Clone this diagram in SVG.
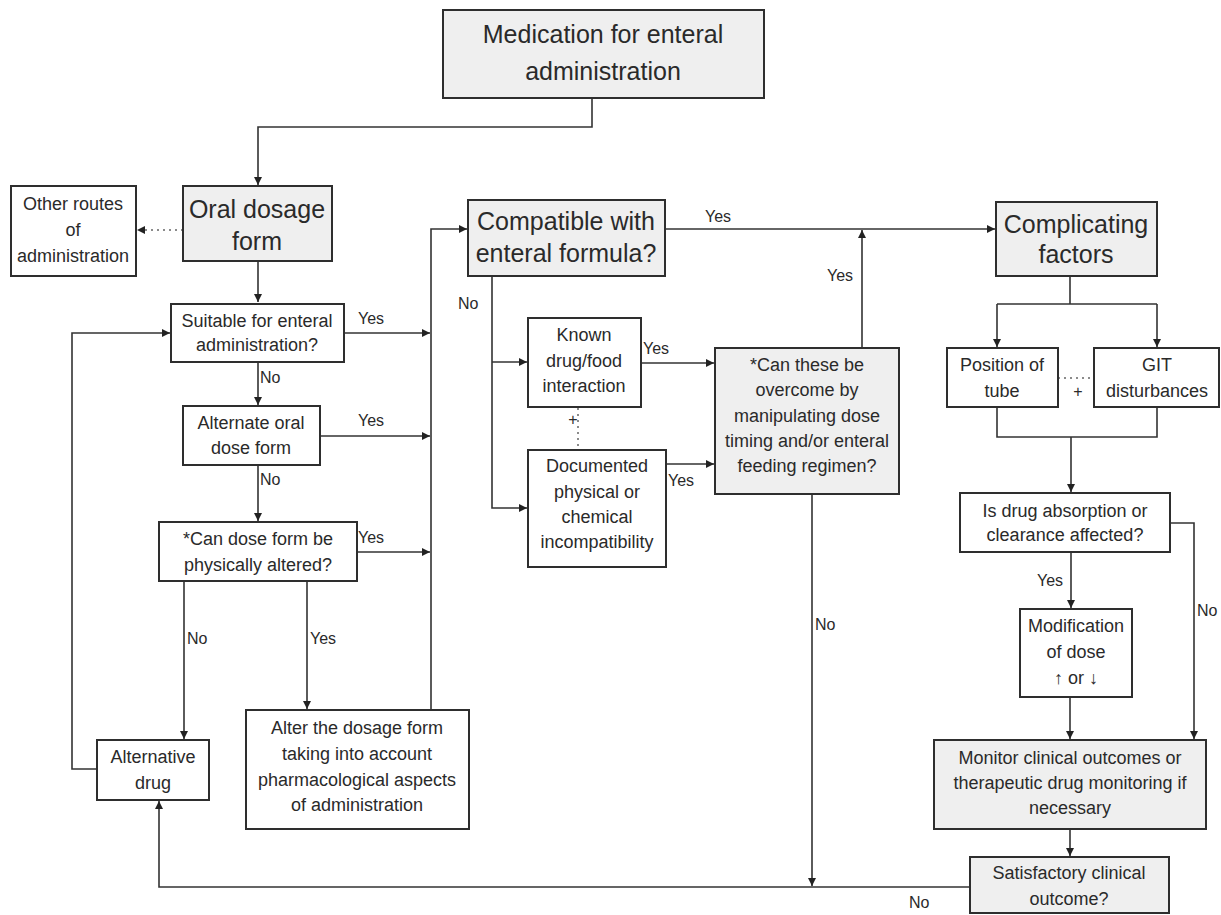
<svg xmlns="http://www.w3.org/2000/svg" width="1221" height="915" viewBox="0 0 1221 915">
<style>
text{font-family:"Liberation Sans",Arial,sans-serif;fill:#2a2a2a;text-anchor:middle}
.box{fill:#fff;stroke:#2e2e2e;stroke-width:2}
.gray{fill:#efefef;stroke:#2e2e2e;stroke-width:2}
.big{font-size:25px}
.mid{font-size:18px}
.lbl{font-size:16px;text-anchor:start}
.ln{fill:none;stroke:#333;stroke-width:1.6}
.dot{fill:none;stroke:#666;stroke-width:1.5;stroke-dasharray:2 4}
</style>
<defs>
<marker id="ar" viewBox="0 0 10 10" refX="10" refY="5" markerWidth="8" markerHeight="8" markerUnits="userSpaceOnUse" orient="auto">
<path d="M0 0L10 5L0 10z" fill="#222"/>
</marker>
</defs>
<rect width="1221" height="915" fill="#fff"/>
<g id="connectors">
<path class="ln" d="M592 98V127H258V185" marker-end="url(#ar)"/>
<path class="dot" d="M183 230H137" marker-end="url(#ar)"/>
<path class="ln" d="M258 261V302" marker-end="url(#ar)"/>
<path class="ln" d="M258 362V405" marker-end="url(#ar)"/>
<path class="ln" d="M258 465V521" marker-end="url(#ar)"/>
<path class="ln" d="M344 333H430" marker-end="url(#ar)"/>
<path class="ln" d="M320 436H430" marker-end="url(#ar)"/>
<path class="ln" d="M357 552H430" marker-end="url(#ar)"/>
<path class="ln" d="M431 710V229H467" marker-end="url(#ar)"/>
<path class="ln" d="M184 581V739" marker-end="url(#ar)"/>
<path class="ln" d="M307 581V709" marker-end="url(#ar)"/>
<path class="ln" d="M97 769H72V333H170" marker-end="url(#ar)"/>
<path class="ln" d="M665 229H995" marker-end="url(#ar)"/>
<path class="ln" d="M492 276V508H527" marker-end="url(#ar)"/>
<path class="ln" d="M492 362H527" marker-end="url(#ar)"/>
<path class="ln" d="M641 363H714" marker-end="url(#ar)"/>
<path class="ln" d="M666 464H714" marker-end="url(#ar)"/>
<path class="dot" d="M578 408V450"/>
<path class="ln" d="M862 348V230" marker-end="url(#ar)"/>
<path class="ln" d="M812 494V886" marker-end="url(#ar)"/>
<path class="ln" d="M970 887H159V801" marker-end="url(#ar)"/>
<path class="ln" d="M1070 276V304"/>
<path class="ln" d="M997 304H1157"/>
<path class="ln" d="M997 304V347" marker-end="url(#ar)"/>
<path class="ln" d="M1157 304V347" marker-end="url(#ar)"/>
<path class="dot" d="M1058 378H1094"/>
<path class="ln" d="M997 407V437H1157V407"/>
<path class="ln" d="M1071 437V492" marker-end="url(#ar)"/>
<path class="ln" d="M1170 523H1194V739" marker-end="url(#ar)"/>
<path class="ln" d="M1071 552V608" marker-end="url(#ar)"/>
<path class="ln" d="M1070 697V739" marker-end="url(#ar)"/>
<path class="ln" d="M1070 829V856" marker-end="url(#ar)"/>
<text class="lbl" x="573" y="425" style="text-anchor:middle">+</text>
<text class="lbl" x="1078" y="397" style="text-anchor:middle">+</text>
<text class="lbl" x="358" y="324">Yes</text>
<text class="lbl" x="260" y="383">No</text>
<text class="lbl" x="358" y="426">Yes</text>
<text class="lbl" x="260" y="485">No</text>
<text class="lbl" x="358" y="543">Yes</text>
<text class="lbl" x="187" y="644">No</text>
<text class="lbl" x="310" y="644">Yes</text>
<text class="lbl" x="458" y="309">No</text>
<text class="lbl" x="705" y="222">Yes</text>
<text class="lbl" x="827" y="281">Yes</text>
<text class="lbl" x="643" y="354">Yes</text>
<text class="lbl" x="668" y="486">Yes</text>
<text class="lbl" x="815" y="630">No</text>
<text class="lbl" x="909" y="908">No</text>
<text class="lbl" x="1037" y="586">Yes</text>
<text class="lbl" x="1197" y="616">No</text>
</g>
<g id="n-medication"><rect class="gray" x="443" y="10" width="321" height="88"/><text class="big" x="603" y="43">Medication for enteral</text><text class="big" x="603" y="80">administration</text></g>
<g id="n-other"><rect class="box" x="11" y="186" width="125" height="90"/><text class="mid" x="73" y="210">Other routes</text><text class="mid" x="73" y="236">of</text><text class="mid" x="73" y="262">administration</text></g>
<g id="n-oral"><rect class="gray" x="183" y="186" width="149" height="75"/><text class="big" x="257" y="218">Oral dosage</text><text class="big" x="257" y="250">form</text></g>
<g id="n-suitable"><rect class="box" x="171" y="304" width="173" height="58"/><text class="mid" x="257" y="327">Suitable for enteral</text><text class="mid" x="257" y="351">administration?</text></g>
<g id="n-alternate"><rect class="box" x="183" y="406" width="137" height="59"/><text class="mid" x="251" y="429">Alternate oral</text><text class="mid" x="251" y="454">dose form</text></g>
<g id="n-candose"><rect class="box" x="159" y="522" width="198" height="59"/><text class="mid" x="258" y="545">*Can dose form be</text><text class="mid" x="258" y="571">physically altered?</text></g>
<g id="n-altdrug"><rect class="box" x="97" y="740" width="112" height="60"/><text class="mid" x="153" y="763">Alternative</text><text class="mid" x="153" y="789">drug</text></g>
<g id="n-alter"><rect class="box" x="246" y="710" width="223" height="119"/><text class="mid" x="357" y="734">Alter the dosage form</text><text class="mid" x="357" y="760">taking into account</text><text class="mid" x="357" y="786">pharmacological aspects</text><text class="mid" x="357" y="811">of administration</text></g>
<g id="n-compatible"><rect class="gray" x="468" y="200" width="197" height="76"/><text class="big" x="566" y="230">Compatible with</text><text class="big" x="566" y="262">enteral formula?</text></g>
<g id="n-known"><rect class="box" x="528" y="318" width="113" height="89"/><text class="mid" x="584" y="341">Known</text><text class="mid" x="584" y="367">drug/food</text><text class="mid" x="584" y="392">interaction</text></g>
<g id="n-documented"><rect class="box" x="528" y="450" width="138" height="117"/><text class="mid" x="597" y="472">Documented</text><text class="mid" x="597" y="498">physical or</text><text class="mid" x="597" y="523">chemical</text><text class="mid" x="597" y="548">incompatibility</text></g>
<g id="n-canthese"><rect class="gray" x="715" y="348" width="184" height="146"/><text class="mid" x="807" y="371">*Can these be</text><text class="mid" x="807" y="396">overcome by</text><text class="mid" x="807" y="422">manipulating dose</text><text class="mid" x="807" y="447">timing and/or enteral</text><text class="mid" x="807" y="472">feeding regimen?</text></g>
<g id="n-complicating"><rect class="gray" x="996" y="202" width="161" height="74"/><text class="big" x="1076" y="233">Complicating</text><text class="big" x="1076" y="263">factors</text></g>
<g id="n-position"><rect class="box" x="947" y="348" width="111" height="59"/><text class="mid" x="1002" y="371">Position of</text><text class="mid" x="1002" y="397">tube</text></g>
<g id="n-git"><rect class="box" x="1094" y="348" width="125" height="59"/><text class="mid" x="1157" y="371">GIT</text><text class="mid" x="1157" y="397">disturbances</text></g>
<g id="n-isdrug"><rect class="box" x="960" y="493" width="210" height="59"/><text class="mid" x="1065" y="517">Is drug absorption or</text><text class="mid" x="1065" y="541">clearance affected?</text></g>
<g id="n-modification"><rect class="box" x="1020" y="609" width="112" height="88"/><text class="mid" x="1076" y="632">Modification</text><text class="mid" x="1076" y="658">of dose</text><text class="mid" x="1076" y="684">↑ or ↓</text></g>
<g id="n-monitor"><rect class="gray" x="934" y="740" width="272" height="89"/><text class="mid" x="1070" y="764">Monitor clinical outcomes or</text><text class="mid" x="1070" y="789">therapeutic drug monitoring if</text><text class="mid" x="1070" y="814">necessary</text></g>
<g id="n-satisfactory"><rect class="gray" x="970" y="857" width="199" height="56"/><text class="mid" x="1069" y="879">Satisfactory clinical</text><text class="mid" x="1069" y="905">outcome?</text></g>
</svg>
